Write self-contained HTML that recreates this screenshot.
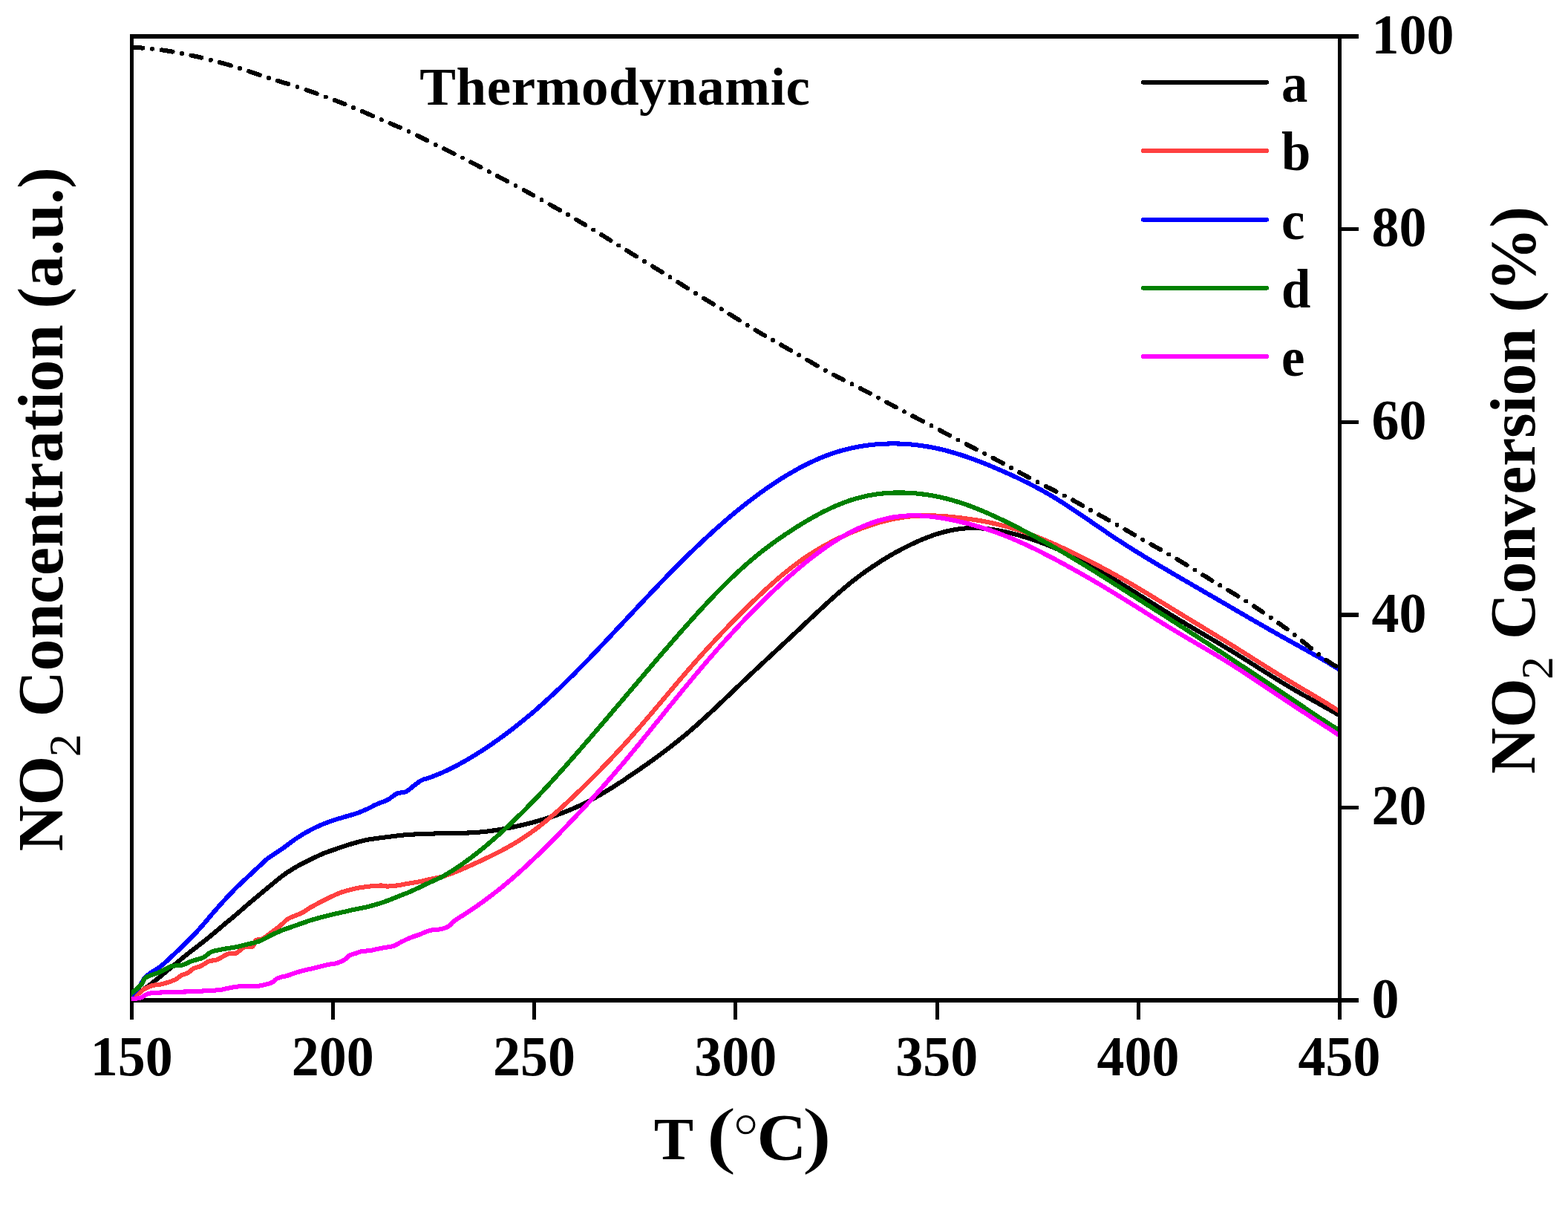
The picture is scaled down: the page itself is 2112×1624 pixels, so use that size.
<!DOCTYPE html>
<html lang="en"><head><meta charset="utf-8"><title>NO2 Concentration vs T</title>
<style>
html,body{margin:0;padding:0;background:#fff;}
body{width:2112px;height:1624px;overflow:hidden;}
svg{display:block;}
text{font-family:"Liberation Serif","Times New Roman",Times,serif;font-weight:bold;fill:#000;}
.ax{stroke:#000;fill:none;stroke-linecap:butt;shape-rendering:crispEdges;}
.cv{fill:none;stroke-width:6.1;stroke-linejoin:round;stroke-linecap:butt;shape-rendering:crispEdges;}
.lg{fill:none;stroke-width:6;stroke-linecap:round;shape-rendering:crispEdges;}
.tk{font-size:75px;}
.ti{font-size:88px;}
</style></head><body>
<svg width="2112" height="1624" viewBox="0 0 2112 1624">
<rect x="0" y="0" width="2112" height="1624" fill="#fff"/>
<defs><clipPath id="plot"><rect x="176.8" y="49.1" width="1625.30" height="1301.10"/></clipPath></defs>
<g class="ax" stroke-width="5.5">
<path stroke-width="5.0" d="M177.5,1372.8 L177.5,46.35"/>
<path d="M174.75,49.1 L1830.0,49.1"/>
<path d="M174.75,1347.2 L1830.0,1347.2"/>
<path stroke-width="5.0" d="M448.65,1347.2 L448.65,1372.8"/>
<path stroke-width="5.0" d="M719.80,1347.2 L719.80,1372.8"/>
<path stroke-width="5.0" d="M990.95,1347.2 L990.95,1372.8"/>
<path stroke-width="5.0" d="M1262.10,1347.2 L1262.10,1372.8"/>
<path stroke-width="5.0" d="M1533.25,1347.2 L1533.25,1372.8"/>
<path stroke-width="5.0" d="M1804.40,1347.2 L1804.40,1372.8"/>
</g>
<g clip-path="url(#plot)">
<path class="cv" stroke="#000000" d="M175.0,1343.0 C175.4,1342.8 175.7,1342.5 177.6,1341.5 C179.5,1340.5 182.2,1339.7 186.4,1337.0 C190.6,1334.3 197.3,1329.6 202.7,1325.5 C208.1,1321.4 213.6,1316.9 219.0,1312.4 C224.4,1308.0 229.9,1303.3 235.4,1298.8 C240.9,1294.3 246.4,1289.5 251.8,1285.2 C257.2,1280.9 262.7,1277.0 268.1,1272.7 C273.6,1268.4 279.1,1264.1 284.5,1259.6 C289.9,1255.1 295.4,1250.5 300.8,1245.9 C306.2,1241.4 311.8,1236.9 317.2,1232.3 C322.6,1227.7 328.1,1222.8 333.5,1218.2 C338.9,1213.6 344.4,1209.0 349.9,1204.5 C355.3,1200.0 361.2,1195.0 366.2,1190.9 C371.2,1186.8 375.3,1183.2 380.0,1179.7 C384.7,1176.2 389.5,1173.1 394.2,1170.2 C398.9,1167.3 403.6,1164.8 408.4,1162.3 C413.1,1159.8 417.9,1157.5 422.7,1155.2 C427.4,1153.0 432.2,1150.7 436.9,1148.8 C441.6,1146.9 446.4,1145.4 451.1,1143.8 C455.8,1142.2 460.6,1140.4 465.3,1138.9 C470.1,1137.4 474.9,1135.9 479.6,1134.6 C484.4,1133.3 489.1,1132.0 493.8,1131.0 C498.5,1130.0 503.3,1129.6 508.0,1128.9 C512.7,1128.2 517.5,1127.7 522.2,1127.1 C527.0,1126.5 531.8,1125.8 536.5,1125.3 C541.2,1124.8 546.0,1124.2 550.7,1123.9 C555.4,1123.6 560.2,1123.4 564.9,1123.2 C569.6,1123.0 574.4,1123.0 579.1,1122.8 C583.9,1122.6 589.7,1122.2 593.4,1122.1 C597.1,1122.0 598.7,1122.0 601.4,1122.0 C604.1,1122.0 606.7,1122.0 609.4,1122.0 C612.1,1121.9 614.7,1121.9 617.4,1121.9 C620.1,1121.8 622.7,1121.8 625.4,1121.7 C628.1,1121.6 630.7,1121.5 633.4,1121.4 C636.1,1121.3 638.7,1121.1 641.4,1120.9 C644.1,1120.7 646.7,1120.5 649.4,1120.3 C652.1,1120.0 654.7,1119.7 657.4,1119.4 C660.1,1119.1 662.7,1118.7 665.4,1118.3 C668.1,1117.9 670.7,1117.5 673.4,1117.1 C676.1,1116.6 678.7,1116.1 681.4,1115.6 C684.1,1115.1 686.7,1114.6 689.4,1114.1 C692.1,1113.5 694.7,1112.9 697.4,1112.3 C700.1,1111.7 702.7,1111.1 705.4,1110.5 C708.1,1109.8 710.7,1109.2 713.4,1108.5 C716.1,1107.8 718.7,1107.1 721.4,1106.4 C724.1,1105.6 726.7,1104.9 729.4,1104.1 C732.1,1103.3 734.7,1102.5 737.4,1101.7 C740.1,1100.8 742.7,1100.0 745.4,1099.1 C748.1,1098.2 750.7,1097.2 753.4,1096.2 C756.1,1095.3 758.7,1094.3 761.4,1093.2 C764.1,1092.2 766.7,1091.1 769.4,1090.0 C772.1,1088.8 774.7,1087.7 777.4,1086.4 C780.1,1085.2 782.7,1084.0 785.4,1082.6 C788.1,1081.3 790.7,1080.0 793.4,1078.6 C796.1,1077.2 798.7,1075.7 801.4,1074.3 C804.1,1072.8 806.7,1071.3 809.4,1069.7 C812.1,1068.1 814.7,1066.6 817.4,1064.9 C820.1,1063.3 822.7,1061.7 825.4,1060.0 C828.1,1058.3 830.7,1056.6 833.4,1054.9 C836.1,1053.1 838.7,1051.4 841.4,1049.6 C844.1,1047.8 846.7,1046.0 849.4,1044.2 C852.1,1042.4 854.7,1040.6 857.4,1038.8 C860.1,1036.9 862.7,1035.1 865.4,1033.2 C868.1,1031.4 870.7,1029.5 873.4,1027.6 C876.1,1025.7 878.7,1023.8 881.4,1021.9 C884.1,1019.9 886.7,1018.0 889.4,1016.0 C892.1,1014.0 894.7,1012.0 897.4,1010.0 C900.1,1008.0 902.7,1005.9 905.4,1003.8 C908.1,1001.7 910.7,999.6 913.4,997.5 C916.1,995.3 918.7,993.2 921.4,991.0 C924.1,988.8 926.7,986.5 929.4,984.2 C932.1,981.9 934.7,979.6 937.4,977.3 C940.1,974.9 942.7,972.5 945.4,970.1 C948.1,967.7 950.7,965.3 953.4,962.8 C956.1,960.3 958.7,957.8 961.4,955.4 C964.1,952.9 966.7,950.3 969.4,947.8 C972.1,945.3 974.7,942.7 977.4,940.2 C980.1,937.6 982.7,935.1 985.4,932.5 C988.1,930.0 990.7,927.4 993.4,924.9 C996.1,922.3 998.7,919.8 1001.4,917.3 C1004.1,914.7 1006.7,912.2 1009.4,909.7 C1012.1,907.2 1014.7,904.7 1017.4,902.2 C1020.1,899.7 1022.7,897.2 1025.4,894.7 C1028.1,892.2 1030.7,889.8 1033.4,887.3 C1036.1,884.8 1038.7,882.4 1041.4,879.9 C1044.1,877.4 1046.7,874.9 1049.4,872.5 C1052.1,870.0 1054.7,867.5 1057.4,865.1 C1060.1,862.6 1062.7,860.1 1065.4,857.6 C1068.1,855.1 1070.7,852.6 1073.4,850.2 C1076.1,847.7 1078.7,845.2 1081.4,842.6 C1084.1,840.1 1086.7,837.6 1089.4,835.1 C1092.1,832.6 1094.7,830.1 1097.4,827.6 C1100.1,825.1 1102.7,822.6 1105.4,820.2 C1108.1,817.7 1110.7,815.2 1113.4,812.8 C1116.1,810.4 1118.7,808.0 1121.4,805.6 C1124.1,803.2 1126.7,800.9 1129.4,798.5 C1132.1,796.2 1134.7,793.9 1137.4,791.7 C1140.1,789.5 1142.7,787.2 1145.4,785.1 C1148.1,782.9 1150.7,780.8 1153.4,778.8 C1156.1,776.7 1158.7,774.7 1161.4,772.8 C1164.1,770.8 1166.7,768.9 1169.4,767.0 C1172.1,765.2 1174.7,763.3 1177.4,761.6 C1180.1,759.8 1182.7,758.1 1185.4,756.4 C1188.1,754.7 1190.7,753.0 1193.4,751.4 C1196.1,749.8 1198.7,748.3 1201.4,746.7 C1204.1,745.2 1206.7,743.7 1209.4,742.3 C1212.1,740.8 1214.7,739.4 1217.4,738.1 C1220.1,736.7 1222.7,735.4 1225.4,734.1 C1228.1,732.8 1230.7,731.5 1233.4,730.3 C1236.1,729.1 1238.7,727.9 1241.4,726.8 C1244.1,725.7 1246.7,724.6 1249.4,723.6 C1252.1,722.5 1254.7,721.6 1257.4,720.6 C1260.1,719.7 1262.7,718.9 1265.4,718.1 C1268.1,717.3 1270.7,716.5 1273.4,715.9 C1276.1,715.2 1278.7,714.6 1281.4,714.0 C1284.1,713.5 1286.7,713.0 1289.4,712.6 C1292.1,712.2 1294.7,711.9 1297.4,711.7 C1300.1,711.4 1302.7,711.3 1305.4,711.2 C1308.1,711.1 1310.7,711.1 1313.4,711.1 C1316.1,711.2 1318.7,711.3 1321.4,711.4 C1324.1,711.6 1326.7,711.8 1329.4,712.1 C1332.1,712.4 1334.7,712.7 1337.4,713.1 C1340.1,713.5 1342.7,714.0 1345.4,714.5 C1348.1,714.9 1350.7,715.5 1353.4,716.1 C1356.1,716.6 1358.7,717.3 1361.4,717.9 C1364.1,718.6 1366.7,719.3 1369.4,720.0 C1372.1,720.7 1374.7,721.5 1377.4,722.3 C1380.1,723.1 1382.7,723.9 1385.4,724.7 C1388.1,725.6 1390.7,726.5 1393.4,727.4 C1396.1,728.3 1398.7,729.3 1401.4,730.3 C1404.1,731.2 1406.7,732.3 1409.4,733.3 C1412.1,734.4 1414.7,735.4 1417.4,736.5 C1420.1,737.7 1422.7,738.8 1425.4,740.0 C1428.1,741.1 1430.7,742.3 1433.4,743.6 C1436.1,744.8 1438.7,746.1 1441.4,747.4 C1444.1,748.7 1446.7,750.0 1449.4,751.4 C1452.1,752.7 1454.7,754.1 1457.4,755.5 C1460.1,756.9 1462.7,758.4 1465.4,759.8 C1468.1,761.3 1470.7,762.8 1473.4,764.3 C1476.1,765.8 1478.7,767.3 1481.4,768.8 C1484.1,770.4 1486.7,771.9 1489.4,773.5 C1492.1,775.1 1494.7,776.7 1497.4,778.3 C1500.1,779.9 1502.7,781.5 1505.4,783.1 C1508.1,784.8 1510.7,786.4 1513.4,788.1 C1516.1,789.7 1518.7,791.4 1521.4,793.0 C1524.1,794.7 1526.7,796.4 1529.4,798.0 C1532.1,799.7 1534.7,801.4 1537.4,803.1 C1540.1,804.7 1542.7,806.4 1545.4,808.1 C1548.1,809.8 1550.7,811.5 1553.4,813.1 C1556.1,814.8 1558.7,816.5 1561.4,818.1 C1564.1,819.8 1566.7,821.5 1569.4,823.1 C1572.1,824.8 1574.7,826.4 1577.4,828.1 C1580.1,829.7 1582.7,831.4 1585.4,833.0 C1588.1,834.6 1590.7,836.2 1593.4,837.8 C1596.1,839.4 1598.7,841.0 1601.4,842.6 C1604.1,844.2 1606.7,845.7 1609.4,847.3 C1612.1,848.9 1614.7,850.5 1617.4,852.0 C1620.1,853.6 1622.7,855.2 1625.4,856.7 C1628.1,858.3 1630.7,859.9 1633.4,861.4 C1636.1,863.0 1638.7,864.6 1641.4,866.2 C1644.1,867.8 1646.7,869.4 1649.4,871.0 C1652.1,872.6 1654.7,874.2 1657.4,875.8 C1660.1,877.4 1662.7,879.1 1665.4,880.7 C1668.1,882.4 1670.7,884.0 1673.4,885.7 C1676.1,887.4 1678.7,889.0 1681.4,890.7 C1684.1,892.4 1686.7,894.1 1689.4,895.7 C1692.1,897.4 1694.7,899.1 1697.4,900.8 C1700.1,902.5 1702.7,904.2 1705.4,905.8 C1708.1,907.5 1710.7,909.2 1713.4,910.8 C1716.1,912.5 1718.7,914.1 1721.4,915.8 C1724.1,917.4 1726.7,919.0 1729.4,920.6 C1732.1,922.2 1734.7,923.8 1737.4,925.4 C1740.1,927.0 1742.7,928.5 1745.4,930.1 C1748.1,931.6 1750.7,933.1 1753.4,934.7 C1756.1,936.2 1758.7,937.7 1761.4,939.2 C1764.1,940.7 1766.7,942.2 1769.4,943.7 C1772.1,945.2 1774.7,946.7 1777.4,948.2 C1780.1,949.7 1782.7,951.2 1785.4,952.7 C1788.1,954.2 1790.7,955.7 1793.4,957.2 C1796.1,958.7 1799.5,960.6 1801.4,961.7 C1803.3,962.8 1804.4,963.4 1805.0,963.7"/>
<path class="cv" stroke="#ff4040" d="M175.0,1343.5 C175.4,1343.2 175.7,1342.9 177.6,1342.0 C179.5,1341.1 183.7,1339.8 186.4,1338.1 C189.1,1336.4 190.9,1333.9 194.0,1332.1 C197.1,1330.3 200.7,1328.4 204.9,1327.2 C209.1,1326.0 213.9,1326.3 219.0,1325.0 C224.1,1323.7 231.2,1321.4 235.4,1319.5 C239.6,1317.6 241.2,1315.0 244.1,1313.5 C247.0,1312.0 250.1,1311.8 252.8,1310.3 C255.5,1308.8 257.6,1305.8 260.5,1304.3 C263.4,1302.8 266.9,1302.6 270.3,1301.0 C273.8,1299.4 277.6,1296.0 281.2,1294.5 C284.8,1293.0 287.6,1294.0 292.1,1292.3 C296.6,1290.6 304.0,1285.5 308.4,1284.1 C312.8,1282.6 314.9,1285.0 318.2,1283.6 C321.5,1282.2 324.4,1277.4 328.0,1275.9 C331.6,1274.4 337.3,1276.4 340.0,1274.8 C342.7,1273.2 342.2,1267.8 344.4,1266.1 C346.6,1264.4 349.5,1266.3 353.1,1264.5 C356.7,1262.7 362.2,1258.1 366.2,1255.2 C370.2,1252.3 373.4,1250.0 377.1,1247.0 C380.8,1244.0 383.8,1239.8 388.5,1237.0 C393.2,1234.2 401.1,1232.2 405.6,1229.9 C410.1,1227.7 411.6,1225.9 415.6,1223.5 C419.6,1221.1 425.1,1218.2 429.8,1215.7 C434.5,1213.2 439.3,1210.8 444.0,1208.6 C448.7,1206.3 453.4,1204.0 458.2,1202.2 C462.9,1200.4 467.8,1199.1 472.5,1197.9 C477.2,1196.7 482.0,1195.8 486.7,1195.0 C491.4,1194.2 496.4,1193.7 500.9,1193.3 C505.4,1192.9 510.2,1192.5 513.7,1192.5 C517.2,1192.5 518.4,1193.6 522.2,1193.6 C526.0,1193.5 531.8,1192.9 536.5,1192.2 C541.2,1191.5 546.0,1190.4 550.7,1189.6 C555.4,1188.8 560.2,1188.1 564.9,1187.2 C569.6,1186.3 574.4,1185.0 579.1,1184.0 C583.9,1183.0 589.7,1182.1 593.4,1181.2 C597.1,1180.3 598.7,1179.6 601.4,1178.6 C604.1,1177.7 606.7,1176.8 609.4,1175.7 C612.1,1174.7 614.7,1173.6 617.4,1172.5 C620.1,1171.5 622.7,1170.3 625.4,1169.2 C628.1,1168.0 630.7,1166.8 633.4,1165.6 C636.1,1164.4 638.7,1163.2 641.4,1162.0 C644.1,1160.8 646.7,1159.6 649.4,1158.3 C652.1,1157.1 654.7,1155.8 657.4,1154.5 C660.1,1153.3 662.7,1152.0 665.4,1150.6 C668.1,1149.3 670.7,1148.0 673.4,1146.6 C676.1,1145.2 678.7,1143.8 681.4,1142.3 C684.1,1140.8 686.7,1139.3 689.4,1137.8 C692.1,1136.2 694.7,1134.6 697.4,1133.0 C700.1,1131.4 702.7,1129.7 705.4,1127.9 C708.1,1126.1 710.7,1124.3 713.4,1122.4 C716.1,1120.5 718.7,1118.6 721.4,1116.6 C724.1,1114.6 726.7,1112.5 729.4,1110.4 C732.1,1108.3 734.7,1106.2 737.4,1104.0 C740.1,1101.7 742.7,1099.5 745.4,1097.2 C748.1,1094.9 750.7,1092.5 753.4,1090.2 C756.1,1087.8 758.7,1085.4 761.4,1082.9 C764.1,1080.5 766.7,1078.0 769.4,1075.4 C772.1,1072.9 774.7,1070.4 777.4,1067.8 C780.1,1065.3 782.7,1062.7 785.4,1060.0 C788.1,1057.4 790.7,1054.8 793.4,1052.1 C796.1,1049.5 798.7,1046.8 801.4,1044.1 C804.1,1041.4 806.7,1038.7 809.4,1036.0 C812.1,1033.2 814.7,1030.4 817.4,1027.7 C820.1,1024.9 822.7,1022.1 825.4,1019.2 C828.1,1016.4 830.7,1013.5 833.4,1010.6 C836.1,1007.7 838.7,1004.8 841.4,1001.9 C844.1,999.0 846.7,996.0 849.4,993.0 C852.1,990.0 854.7,987.0 857.4,983.9 C860.1,980.9 862.7,977.8 865.4,974.7 C868.1,971.6 870.7,968.5 873.4,965.4 C876.1,962.3 878.7,959.1 881.4,956.0 C884.1,952.8 886.7,949.7 889.4,946.5 C892.1,943.3 894.7,940.2 897.4,937.0 C900.1,933.8 902.7,930.7 905.4,927.5 C908.1,924.4 910.7,921.2 913.4,918.1 C916.1,914.9 918.7,911.8 921.4,908.7 C924.1,905.6 926.7,902.5 929.4,899.5 C932.1,896.4 934.7,893.4 937.4,890.4 C940.1,887.4 942.7,884.4 945.4,881.4 C948.1,878.5 950.7,875.5 953.4,872.6 C956.1,869.7 958.7,866.8 961.4,864.0 C964.1,861.1 966.7,858.3 969.4,855.4 C972.1,852.6 974.7,849.8 977.4,847.0 C980.1,844.3 982.7,841.5 985.4,838.8 C988.1,836.1 990.7,833.3 993.4,830.6 C996.1,828.0 998.7,825.3 1001.4,822.6 C1004.1,820.0 1006.7,817.3 1009.4,814.7 C1012.1,812.1 1014.7,809.5 1017.4,807.0 C1020.1,804.4 1022.7,801.9 1025.4,799.4 C1028.1,796.9 1030.7,794.4 1033.4,792.0 C1036.1,789.6 1038.7,787.2 1041.4,784.8 C1044.1,782.4 1046.7,780.1 1049.4,777.8 C1052.1,775.6 1054.7,773.3 1057.4,771.2 C1060.1,769.0 1062.7,766.8 1065.4,764.8 C1068.1,762.7 1070.7,760.6 1073.4,758.7 C1076.1,756.7 1078.7,754.8 1081.4,752.9 C1084.1,751.1 1086.7,749.3 1089.4,747.5 C1092.1,745.8 1094.7,744.1 1097.4,742.4 C1100.1,740.8 1102.7,739.2 1105.4,737.6 C1108.1,736.1 1110.7,734.6 1113.4,733.1 C1116.1,731.7 1118.7,730.2 1121.4,728.9 C1124.1,727.5 1126.7,726.2 1129.4,724.9 C1132.1,723.6 1134.7,722.4 1137.4,721.2 C1140.1,720.0 1142.7,718.8 1145.4,717.6 C1148.1,716.5 1150.7,715.4 1153.4,714.3 C1156.1,713.3 1158.7,712.2 1161.4,711.2 C1164.1,710.2 1166.7,709.3 1169.4,708.4 C1172.1,707.4 1174.7,706.6 1177.4,705.7 C1180.1,704.9 1182.7,704.1 1185.4,703.3 C1188.1,702.6 1190.7,701.9 1193.4,701.2 C1196.1,700.5 1198.7,699.9 1201.4,699.3 C1204.1,698.8 1206.7,698.2 1209.4,697.8 C1212.1,697.3 1214.7,696.9 1217.4,696.5 C1220.1,696.1 1222.7,695.8 1225.4,695.5 C1228.1,695.2 1230.7,695.0 1233.4,694.8 C1236.1,694.7 1238.7,694.5 1241.4,694.4 C1244.1,694.4 1246.7,694.3 1249.4,694.3 C1252.1,694.3 1254.7,694.3 1257.4,694.4 C1260.1,694.5 1262.7,694.6 1265.4,694.7 C1268.1,694.9 1270.7,695.1 1273.4,695.3 C1276.1,695.5 1278.7,695.7 1281.4,696.0 C1284.1,696.2 1286.7,696.5 1289.4,696.8 C1292.1,697.1 1294.7,697.4 1297.4,697.8 C1300.1,698.1 1302.7,698.5 1305.4,698.9 C1308.1,699.2 1310.7,699.6 1313.4,700.1 C1316.1,700.5 1318.7,700.9 1321.4,701.4 C1324.1,701.9 1326.7,702.4 1329.4,702.9 C1332.1,703.5 1334.7,704.0 1337.4,704.6 C1340.1,705.2 1342.7,705.8 1345.4,706.4 C1348.1,707.1 1350.7,707.8 1353.4,708.5 C1356.1,709.2 1358.7,709.9 1361.4,710.7 C1364.1,711.5 1366.7,712.3 1369.4,713.1 C1372.1,714.0 1374.7,714.8 1377.4,715.8 C1380.1,716.7 1382.7,717.6 1385.4,718.6 C1388.1,719.6 1390.7,720.6 1393.4,721.6 C1396.1,722.6 1398.7,723.7 1401.4,724.8 C1404.1,725.9 1406.7,727.0 1409.4,728.1 C1412.1,729.2 1414.7,730.4 1417.4,731.6 C1420.1,732.7 1422.7,733.9 1425.4,735.1 C1428.1,736.4 1430.7,737.6 1433.4,738.8 C1436.1,740.1 1438.7,741.4 1441.4,742.6 C1444.1,743.9 1446.7,745.2 1449.4,746.5 C1452.1,747.8 1454.7,749.1 1457.4,750.4 C1460.1,751.8 1462.7,753.1 1465.4,754.5 C1468.1,755.8 1470.7,757.2 1473.4,758.6 C1476.1,760.0 1478.7,761.4 1481.4,762.8 C1484.1,764.2 1486.7,765.6 1489.4,767.1 C1492.1,768.5 1494.7,770.0 1497.4,771.4 C1500.1,772.9 1502.7,774.4 1505.4,775.9 C1508.1,777.4 1510.7,778.9 1513.4,780.4 C1516.1,782.0 1518.7,783.5 1521.4,785.0 C1524.1,786.6 1526.7,788.2 1529.4,789.7 C1532.1,791.3 1534.7,792.9 1537.4,794.5 C1540.1,796.1 1542.7,797.7 1545.4,799.3 C1548.1,800.9 1550.7,802.5 1553.4,804.2 C1556.1,805.8 1558.7,807.4 1561.4,809.0 C1564.1,810.7 1566.7,812.3 1569.4,813.9 C1572.1,815.5 1574.7,817.2 1577.4,818.8 C1580.1,820.4 1582.7,822.1 1585.4,823.7 C1588.1,825.3 1590.7,827.0 1593.4,828.6 C1596.1,830.2 1598.7,831.8 1601.4,833.4 C1604.1,835.1 1606.7,836.7 1609.4,838.3 C1612.1,839.9 1614.7,841.5 1617.4,843.1 C1620.1,844.8 1622.7,846.4 1625.4,848.0 C1628.1,849.6 1630.7,851.2 1633.4,852.9 C1636.1,854.5 1638.7,856.1 1641.4,857.8 C1644.1,859.4 1646.7,861.0 1649.4,862.7 C1652.1,864.3 1654.7,866.0 1657.4,867.7 C1660.1,869.3 1662.7,871.0 1665.4,872.6 C1668.1,874.3 1670.7,876.0 1673.4,877.7 C1676.1,879.4 1678.7,881.0 1681.4,882.7 C1684.1,884.4 1686.7,886.1 1689.4,887.8 C1692.1,889.5 1694.7,891.2 1697.4,892.8 C1700.1,894.5 1702.7,896.2 1705.4,897.9 C1708.1,899.6 1710.7,901.2 1713.4,902.9 C1716.1,904.5 1718.7,906.2 1721.4,907.8 C1724.1,909.5 1726.7,911.1 1729.4,912.7 C1732.1,914.3 1734.7,916.0 1737.4,917.5 C1740.1,919.1 1742.7,920.7 1745.4,922.3 C1748.1,923.9 1750.7,925.5 1753.4,927.0 C1756.1,928.6 1758.7,930.2 1761.4,931.8 C1764.1,933.3 1766.7,934.9 1769.4,936.5 C1772.1,938.1 1774.7,939.7 1777.4,941.3 C1780.1,942.9 1782.7,944.5 1785.4,946.1 C1788.1,947.7 1790.7,949.4 1793.4,951.1 C1796.1,952.7 1799.5,954.9 1801.4,956.1 C1803.3,957.3 1804.4,958.0 1805.0,958.4"/>
<path class="cv" stroke="#0000ff" d="M175.0,1343.0 C175.4,1342.5 175.7,1342.3 177.6,1340.2 C179.5,1338.1 184.0,1333.5 186.4,1330.4 C188.8,1327.3 190.4,1324.1 191.8,1321.7 C193.2,1319.3 193.3,1318.2 195.1,1316.3 C196.9,1314.4 199.6,1312.5 202.7,1310.3 C205.8,1308.1 210.7,1305.2 213.6,1303.2 C216.5,1301.2 216.5,1301.5 220.1,1298.3 C223.7,1295.1 230.1,1289.1 235.4,1284.1 C240.7,1279.1 246.4,1273.8 251.8,1268.3 C257.2,1262.8 262.7,1257.4 268.1,1251.4 C273.6,1245.4 279.1,1238.6 284.5,1232.3 C289.9,1226.0 295.4,1219.8 300.8,1213.8 C306.2,1207.8 311.8,1201.9 317.2,1196.4 C322.6,1191.0 328.0,1186.2 333.5,1181.1 C339.0,1175.9 345.5,1169.8 350.2,1165.5 C354.9,1161.2 356.6,1159.0 361.6,1155.3 C366.6,1151.6 374.6,1146.9 380.0,1143.1 C385.4,1139.3 389.5,1135.8 394.2,1132.5 C398.9,1129.2 403.6,1126.0 408.4,1123.2 C413.1,1120.4 417.9,1117.8 422.7,1115.4 C427.4,1113.0 432.2,1110.9 436.9,1109.0 C441.6,1107.1 446.4,1105.5 451.1,1104.0 C455.8,1102.5 460.6,1101.1 465.3,1099.7 C470.1,1098.3 474.9,1097.2 479.6,1095.5 C484.4,1093.8 489.1,1091.9 493.8,1089.8 C498.5,1087.7 503.3,1084.8 508.0,1082.7 C512.7,1080.6 517.7,1079.4 522.2,1077.0 C526.7,1074.6 531.0,1070.2 535.0,1068.4 C539.0,1066.6 542.6,1068.1 546.4,1066.3 C550.2,1064.5 554.2,1060.4 557.8,1057.8 C561.4,1055.2 564.2,1052.5 567.8,1050.7 C571.3,1048.9 574.8,1048.7 579.1,1047.1 C583.4,1045.5 589.7,1042.9 593.4,1041.4 C597.1,1039.8 598.7,1039.0 601.4,1037.7 C604.1,1036.5 606.7,1035.2 609.4,1033.8 C612.1,1032.5 614.7,1031.1 617.4,1029.7 C620.1,1028.2 622.7,1026.8 625.4,1025.3 C628.1,1023.7 630.7,1022.2 633.4,1020.6 C636.1,1019.0 638.7,1017.4 641.4,1015.7 C644.1,1014.1 646.7,1012.4 649.4,1010.7 C652.1,1008.9 654.7,1007.2 657.4,1005.4 C660.1,1003.6 662.7,1001.7 665.4,999.9 C668.1,998.0 670.7,996.1 673.4,994.2 C676.1,992.3 678.7,990.3 681.4,988.4 C684.1,986.4 686.7,984.4 689.4,982.3 C692.1,980.3 694.7,978.2 697.4,976.1 C700.1,973.9 702.7,971.8 705.4,969.6 C708.1,967.4 710.7,965.2 713.4,963.0 C716.1,960.8 718.7,958.5 721.4,956.2 C724.1,953.9 726.7,951.5 729.4,949.1 C732.1,946.8 734.7,944.4 737.4,941.9 C740.1,939.5 742.7,937.0 745.4,934.5 C748.1,932.0 750.7,929.5 753.4,927.0 C756.1,924.4 758.7,921.8 761.4,919.2 C764.1,916.6 766.7,914.0 769.4,911.3 C772.1,908.7 774.7,906.0 777.4,903.3 C780.1,900.6 782.7,897.9 785.4,895.2 C788.1,892.5 790.7,889.7 793.4,887.0 C796.1,884.2 798.7,881.4 801.4,878.6 C804.1,875.8 806.7,873.0 809.4,870.2 C812.1,867.4 814.7,864.6 817.4,861.8 C820.1,858.9 822.7,856.1 825.4,853.2 C828.1,850.4 830.7,847.5 833.4,844.7 C836.1,841.8 838.7,839.0 841.4,836.1 C844.1,833.3 846.7,830.4 849.4,827.6 C852.1,824.7 854.7,821.8 857.4,819.0 C860.1,816.1 862.7,813.3 865.4,810.5 C868.1,807.6 870.7,804.8 873.4,802.0 C876.1,799.2 878.7,796.4 881.4,793.6 C884.1,790.8 886.7,788.0 889.4,785.2 C892.1,782.4 894.7,779.7 897.4,776.9 C900.1,774.2 902.7,771.5 905.4,768.8 C908.1,766.1 910.7,763.4 913.4,760.7 C916.1,758.0 918.7,755.4 921.4,752.7 C924.1,750.1 926.7,747.5 929.4,744.9 C932.1,742.3 934.7,739.7 937.4,737.2 C940.1,734.6 942.7,732.1 945.4,729.6 C948.1,727.1 950.7,724.6 953.4,722.2 C956.1,719.7 958.7,717.3 961.4,714.9 C964.1,712.5 966.7,710.1 969.4,707.8 C972.1,705.4 974.7,703.1 977.4,700.8 C980.1,698.5 982.7,696.3 985.4,694.0 C988.1,691.8 990.7,689.6 993.4,687.4 C996.1,685.2 998.7,683.1 1001.4,681.0 C1004.1,678.9 1006.7,676.8 1009.4,674.7 C1012.1,672.7 1014.7,670.7 1017.4,668.7 C1020.1,666.7 1022.7,664.7 1025.4,662.8 C1028.1,660.9 1030.7,659.0 1033.4,657.1 C1036.1,655.3 1038.7,653.5 1041.4,651.7 C1044.1,649.9 1046.7,648.2 1049.4,646.5 C1052.1,644.7 1054.7,643.1 1057.4,641.4 C1060.1,639.8 1062.7,638.2 1065.4,636.7 C1068.1,635.1 1070.7,633.6 1073.4,632.1 C1076.1,630.6 1078.7,629.2 1081.4,627.8 C1084.1,626.4 1086.7,625.1 1089.4,623.8 C1092.1,622.5 1094.7,621.3 1097.4,620.1 C1100.1,618.9 1102.7,617.7 1105.4,616.6 C1108.1,615.5 1110.7,614.4 1113.4,613.4 C1116.1,612.4 1118.7,611.5 1121.4,610.6 C1124.1,609.7 1126.7,608.8 1129.4,608.0 C1132.1,607.2 1134.7,606.5 1137.4,605.7 C1140.1,605.0 1142.7,604.4 1145.4,603.8 C1148.1,603.2 1150.7,602.6 1153.4,602.1 C1156.1,601.6 1158.7,601.1 1161.4,600.7 C1164.1,600.2 1166.7,599.8 1169.4,599.5 C1172.1,599.2 1174.7,598.9 1177.4,598.6 C1180.1,598.3 1182.7,598.1 1185.4,598.0 C1188.1,597.8 1190.7,597.7 1193.4,597.6 C1196.1,597.5 1198.7,597.4 1201.4,597.4 C1204.1,597.4 1206.7,597.4 1209.4,597.5 C1212.1,597.5 1214.7,597.7 1217.4,597.8 C1220.1,597.9 1222.7,598.1 1225.4,598.3 C1228.1,598.6 1230.7,598.8 1233.4,599.1 C1236.1,599.4 1238.7,599.8 1241.4,600.2 C1244.1,600.5 1246.7,600.9 1249.4,601.4 C1252.1,601.9 1254.7,602.4 1257.4,602.9 C1260.1,603.4 1262.7,604.0 1265.4,604.6 C1268.1,605.2 1270.7,605.9 1273.4,606.5 C1276.1,607.2 1278.7,608.0 1281.4,608.7 C1284.1,609.5 1286.7,610.3 1289.4,611.1 C1292.1,611.9 1294.7,612.8 1297.4,613.6 C1300.1,614.5 1302.7,615.4 1305.4,616.4 C1308.1,617.3 1310.7,618.3 1313.4,619.3 C1316.1,620.3 1318.7,621.3 1321.4,622.3 C1324.1,623.4 1326.7,624.4 1329.4,625.5 C1332.1,626.6 1334.7,627.7 1337.4,628.8 C1340.1,629.9 1342.7,631.1 1345.4,632.2 C1348.1,633.4 1350.7,634.5 1353.4,635.7 C1356.1,636.9 1358.7,638.1 1361.4,639.3 C1364.1,640.5 1366.7,641.8 1369.4,643.0 C1372.1,644.3 1374.7,645.6 1377.4,646.9 C1380.1,648.2 1382.7,649.5 1385.4,650.8 C1388.1,652.2 1390.7,653.6 1393.4,655.0 C1396.1,656.4 1398.7,657.8 1401.4,659.3 C1404.1,660.7 1406.7,662.2 1409.4,663.7 C1412.1,665.2 1414.7,666.8 1417.4,668.4 C1420.1,670.0 1422.7,671.6 1425.4,673.2 C1428.1,674.9 1430.7,676.6 1433.4,678.3 C1436.1,680.0 1438.7,681.7 1441.4,683.5 C1444.1,685.2 1446.7,687.0 1449.4,688.8 C1452.1,690.6 1454.7,692.4 1457.4,694.2 C1460.1,696.0 1462.7,697.8 1465.4,699.7 C1468.1,701.5 1470.7,703.3 1473.4,705.2 C1476.1,707.0 1478.7,708.8 1481.4,710.6 C1484.1,712.5 1486.7,714.3 1489.4,716.1 C1492.1,717.9 1494.7,719.7 1497.4,721.5 C1500.1,723.3 1502.7,725.0 1505.4,726.8 C1508.1,728.5 1510.7,730.3 1513.4,732.0 C1516.1,733.7 1518.7,735.4 1521.4,737.1 C1524.1,738.7 1526.7,740.4 1529.4,742.1 C1532.1,743.7 1534.7,745.4 1537.4,747.0 C1540.1,748.7 1542.7,750.3 1545.4,751.9 C1548.1,753.5 1550.7,755.1 1553.4,756.7 C1556.1,758.3 1558.7,759.9 1561.4,761.5 C1564.1,763.1 1566.7,764.7 1569.4,766.2 C1572.1,767.8 1574.7,769.4 1577.4,770.9 C1580.1,772.5 1582.7,774.1 1585.4,775.6 C1588.1,777.2 1590.7,778.7 1593.4,780.3 C1596.1,781.8 1598.7,783.4 1601.4,784.9 C1604.1,786.5 1606.7,788.0 1609.4,789.6 C1612.1,791.1 1614.7,792.7 1617.4,794.2 C1620.1,795.8 1622.7,797.3 1625.4,798.9 C1628.1,800.4 1630.7,801.9 1633.4,803.5 C1636.1,805.0 1638.7,806.6 1641.4,808.1 C1644.1,809.7 1646.7,811.2 1649.4,812.8 C1652.1,814.3 1654.7,815.8 1657.4,817.4 C1660.1,818.9 1662.7,820.5 1665.4,822.1 C1668.1,823.6 1670.7,825.2 1673.4,826.7 C1676.1,828.3 1678.7,829.8 1681.4,831.4 C1684.1,832.9 1686.7,834.4 1689.4,836.0 C1692.1,837.5 1694.7,839.1 1697.4,840.6 C1700.1,842.1 1702.7,843.7 1705.4,845.2 C1708.1,846.7 1710.7,848.3 1713.4,849.8 C1716.1,851.3 1718.7,852.8 1721.4,854.3 C1724.1,855.8 1726.7,857.3 1729.4,858.8 C1732.1,860.3 1734.7,861.8 1737.4,863.3 C1740.1,864.7 1742.7,866.2 1745.4,867.7 C1748.1,869.2 1750.7,870.6 1753.4,872.1 C1756.1,873.6 1758.7,875.1 1761.4,876.6 C1764.1,878.1 1766.7,879.6 1769.4,881.1 C1772.1,882.6 1774.7,884.1 1777.4,885.6 C1780.1,887.2 1782.7,888.7 1785.4,890.3 C1788.1,891.9 1790.7,893.4 1793.4,895.1 C1796.1,896.7 1799.5,898.8 1801.4,899.9 C1803.3,901.1 1804.4,901.8 1805.0,902.2"/>
<path class="cv" stroke="#008000" d="M175.0,1340.0 C175.4,1339.5 175.7,1338.7 177.6,1337.0 C179.5,1335.3 184.0,1332.1 186.4,1329.9 C188.8,1327.7 190.4,1326.0 191.8,1323.9 C193.2,1321.8 193.3,1319.0 195.1,1317.3 C196.9,1315.6 199.6,1314.8 202.7,1313.5 C205.8,1312.2 210.0,1311.2 213.6,1309.7 C217.2,1308.2 221.6,1305.8 224.5,1304.3 C227.4,1302.8 227.4,1301.8 231.0,1301.0 C234.6,1300.2 241.9,1300.5 246.3,1299.4 C250.7,1298.3 252.6,1296.2 257.2,1294.5 C261.8,1292.8 269.1,1291.6 273.6,1289.5 C278.2,1287.4 280.0,1283.8 284.5,1281.9 C289.0,1280.0 295.4,1279.2 300.8,1278.1 C306.2,1277.0 311.8,1276.5 317.2,1275.4 C322.6,1274.3 328.1,1273.0 333.5,1271.6 C338.9,1270.2 344.4,1269.3 349.9,1267.2 C355.3,1265.1 361.2,1261.4 366.2,1259.0 C371.2,1256.6 375.3,1254.6 380.0,1252.7 C384.7,1250.8 389.5,1249.4 394.2,1247.7 C398.9,1246.0 403.6,1244.3 408.4,1242.7 C413.1,1241.1 417.9,1239.4 422.7,1238.0 C427.4,1236.6 432.2,1235.4 436.9,1234.2 C441.6,1233.0 446.4,1231.7 451.1,1230.6 C455.8,1229.5 460.6,1228.6 465.3,1227.5 C470.1,1226.4 474.9,1225.2 479.6,1224.2 C484.4,1223.2 489.1,1222.5 493.8,1221.4 C498.5,1220.3 503.3,1218.9 508.0,1217.5 C512.7,1216.1 517.5,1214.5 522.2,1212.8 C527.0,1211.1 531.8,1209.0 536.5,1207.1 C541.2,1205.2 546.0,1203.5 550.7,1201.5 C555.4,1199.5 560.2,1197.2 564.9,1195.0 C569.6,1192.8 574.4,1190.4 579.1,1188.2 C583.9,1186.0 589.7,1183.5 593.4,1181.7 C597.1,1179.9 598.7,1178.7 601.4,1177.2 C604.1,1175.6 606.7,1174.0 609.4,1172.3 C612.1,1170.6 614.7,1168.9 617.4,1167.1 C620.1,1165.3 622.7,1163.4 625.4,1161.5 C628.1,1159.6 630.7,1157.7 633.4,1155.7 C636.1,1153.7 638.7,1151.6 641.4,1149.6 C644.1,1147.5 646.7,1145.4 649.4,1143.2 C652.1,1141.0 654.7,1138.8 657.4,1136.6 C660.1,1134.3 662.7,1132.0 665.4,1129.7 C668.1,1127.3 670.7,1125.0 673.4,1122.6 C676.1,1120.2 678.7,1117.7 681.4,1115.2 C684.1,1112.8 686.7,1110.2 689.4,1107.7 C692.1,1105.1 694.7,1102.6 697.4,1099.9 C700.1,1097.3 702.7,1094.7 705.4,1092.0 C708.1,1089.3 710.7,1086.6 713.4,1083.9 C716.1,1081.1 718.7,1078.4 721.4,1075.6 C724.1,1072.8 726.7,1070.0 729.4,1067.1 C732.1,1064.3 734.7,1061.4 737.4,1058.5 C740.1,1055.6 742.7,1052.7 745.4,1049.8 C748.1,1046.8 750.7,1043.9 753.4,1040.9 C756.1,1038.0 758.7,1035.0 761.4,1032.0 C764.1,1029.0 766.7,1025.9 769.4,1022.9 C772.1,1019.9 774.7,1016.8 777.4,1013.8 C780.1,1010.7 782.7,1007.7 785.4,1004.6 C788.1,1001.5 790.7,998.4 793.4,995.3 C796.1,992.3 798.7,989.2 801.4,986.1 C804.1,983.0 806.7,979.8 809.4,976.7 C812.1,973.6 814.7,970.5 817.4,967.4 C820.1,964.2 822.7,961.1 825.4,958.0 C828.1,954.8 830.7,951.7 833.4,948.6 C836.1,945.4 838.7,942.3 841.4,939.1 C844.1,936.0 846.7,932.9 849.4,929.7 C852.1,926.6 854.7,923.4 857.4,920.3 C860.1,917.1 862.7,914.0 865.4,910.9 C868.1,907.7 870.7,904.6 873.4,901.5 C876.1,898.3 878.7,895.2 881.4,892.1 C884.1,889.0 886.7,885.8 889.4,882.7 C892.1,879.6 894.7,876.5 897.4,873.5 C900.1,870.4 902.7,867.3 905.4,864.2 C908.1,861.2 910.7,858.1 913.4,855.1 C916.1,852.0 918.7,849.0 921.4,846.0 C924.1,843.0 926.7,840.0 929.4,837.0 C932.1,834.0 934.7,831.1 937.4,828.1 C940.1,825.2 942.7,822.3 945.4,819.4 C948.1,816.5 950.7,813.6 953.4,810.8 C956.1,807.9 958.7,805.1 961.4,802.3 C964.1,799.6 966.7,796.8 969.4,794.1 C972.1,791.4 974.7,788.7 977.4,786.0 C980.1,783.4 982.7,780.8 985.4,778.2 C988.1,775.7 990.7,773.1 993.4,770.7 C996.1,768.2 998.7,765.8 1001.4,763.4 C1004.1,761.0 1006.7,758.7 1009.4,756.4 C1012.1,754.1 1014.7,751.9 1017.4,749.7 C1020.1,747.5 1022.7,745.3 1025.4,743.2 C1028.1,741.1 1030.7,739.1 1033.4,737.1 C1036.1,735.0 1038.7,733.1 1041.4,731.1 C1044.1,729.2 1046.7,727.3 1049.4,725.4 C1052.1,723.6 1054.7,721.7 1057.4,719.9 C1060.1,718.1 1062.7,716.4 1065.4,714.6 C1068.1,712.9 1070.7,711.2 1073.4,709.5 C1076.1,707.9 1078.7,706.2 1081.4,704.6 C1084.1,703.0 1086.7,701.4 1089.4,699.9 C1092.1,698.3 1094.7,696.8 1097.4,695.3 C1100.1,693.9 1102.7,692.4 1105.4,691.0 C1108.1,689.6 1110.7,688.3 1113.4,687.0 C1116.1,685.7 1118.7,684.4 1121.4,683.2 C1124.1,682.0 1126.7,680.8 1129.4,679.7 C1132.1,678.6 1134.7,677.6 1137.4,676.6 C1140.1,675.6 1142.7,674.6 1145.4,673.7 C1148.1,672.9 1150.7,672.0 1153.4,671.3 C1156.1,670.5 1158.7,669.8 1161.4,669.2 C1164.1,668.5 1166.7,667.9 1169.4,667.4 C1172.1,666.9 1174.7,666.4 1177.4,666.0 C1180.1,665.6 1182.7,665.2 1185.4,664.9 C1188.1,664.6 1190.7,664.3 1193.4,664.1 C1196.1,663.9 1198.7,663.8 1201.4,663.6 C1204.1,663.5 1206.7,663.5 1209.4,663.5 C1212.1,663.4 1214.7,663.5 1217.4,663.5 C1220.1,663.6 1222.7,663.7 1225.4,663.9 C1228.1,664.0 1230.7,664.2 1233.4,664.4 C1236.1,664.7 1238.7,665.0 1241.4,665.3 C1244.1,665.6 1246.7,666.0 1249.4,666.4 C1252.1,666.8 1254.7,667.2 1257.4,667.7 C1260.1,668.2 1262.7,668.7 1265.4,669.3 C1268.1,669.9 1270.7,670.5 1273.4,671.1 C1276.1,671.8 1278.7,672.5 1281.4,673.2 C1284.1,674.0 1286.7,674.7 1289.4,675.6 C1292.1,676.4 1294.7,677.2 1297.4,678.1 C1300.1,679.0 1302.7,680.0 1305.4,681.0 C1308.1,681.9 1310.7,683.0 1313.4,684.0 C1316.1,685.1 1318.7,686.1 1321.4,687.3 C1324.1,688.4 1326.7,689.5 1329.4,690.7 C1332.1,691.8 1334.7,693.0 1337.4,694.3 C1340.1,695.5 1342.7,696.7 1345.4,698.0 C1348.1,699.2 1350.7,700.5 1353.4,701.8 C1356.1,703.1 1358.7,704.4 1361.4,705.8 C1364.1,707.1 1366.7,708.4 1369.4,709.8 C1372.1,711.2 1374.7,712.5 1377.4,713.9 C1380.1,715.3 1382.7,716.7 1385.4,718.1 C1388.1,719.5 1390.7,720.9 1393.4,722.3 C1396.1,723.7 1398.7,725.2 1401.4,726.6 C1404.1,728.0 1406.7,729.5 1409.4,731.0 C1412.1,732.5 1414.7,733.9 1417.4,735.4 C1420.1,736.9 1422.7,738.5 1425.4,740.0 C1428.1,741.5 1430.7,743.0 1433.4,744.6 C1436.1,746.2 1438.7,747.7 1441.4,749.3 C1444.1,750.9 1446.7,752.5 1449.4,754.1 C1452.1,755.7 1454.7,757.3 1457.4,758.9 C1460.1,760.6 1462.7,762.2 1465.4,763.9 C1468.1,765.5 1470.7,767.2 1473.4,768.8 C1476.1,770.5 1478.7,772.2 1481.4,773.9 C1484.1,775.5 1486.7,777.2 1489.4,778.9 C1492.1,780.6 1494.7,782.3 1497.4,784.0 C1500.1,785.7 1502.7,787.4 1505.4,789.1 C1508.1,790.8 1510.7,792.5 1513.4,794.2 C1516.1,795.9 1518.7,797.5 1521.4,799.2 C1524.1,800.9 1526.7,802.6 1529.4,804.3 C1532.1,806.0 1534.7,807.7 1537.4,809.4 C1540.1,811.1 1542.7,812.8 1545.4,814.5 C1548.1,816.2 1550.7,817.9 1553.4,819.6 C1556.1,821.3 1558.7,823.0 1561.4,824.7 C1564.1,826.4 1566.7,828.0 1569.4,829.7 C1572.1,831.4 1574.7,833.1 1577.4,834.9 C1580.1,836.6 1582.7,838.3 1585.4,840.0 C1588.1,841.7 1590.7,843.4 1593.4,845.1 C1596.1,846.8 1598.7,848.5 1601.4,850.2 C1604.1,852.0 1606.7,853.7 1609.4,855.4 C1612.1,857.1 1614.7,858.8 1617.4,860.6 C1620.1,862.3 1622.7,864.0 1625.4,865.7 C1628.1,867.5 1630.7,869.2 1633.4,870.9 C1636.1,872.7 1638.7,874.4 1641.4,876.1 C1644.1,877.9 1646.7,879.6 1649.4,881.3 C1652.1,883.1 1654.7,884.8 1657.4,886.6 C1660.1,888.3 1662.7,890.1 1665.4,891.8 C1668.1,893.6 1670.7,895.3 1673.4,897.1 C1676.1,898.8 1678.7,900.6 1681.4,902.3 C1684.1,904.1 1686.7,905.8 1689.4,907.6 C1692.1,909.3 1694.7,911.1 1697.4,912.9 C1700.1,914.6 1702.7,916.4 1705.4,918.2 C1708.1,920.0 1710.7,921.7 1713.4,923.5 C1716.1,925.3 1718.7,927.1 1721.4,928.9 C1724.1,930.6 1726.7,932.4 1729.4,934.2 C1732.1,936.0 1734.7,937.8 1737.4,939.6 C1740.1,941.4 1742.7,943.2 1745.4,945.0 C1748.1,946.8 1750.7,948.6 1753.4,950.4 C1756.1,952.2 1758.7,954.0 1761.4,955.8 C1764.1,957.6 1766.7,959.4 1769.4,961.2 C1772.1,963.0 1774.7,964.7 1777.4,966.5 C1780.1,968.2 1782.7,970.0 1785.4,971.7 C1788.1,973.4 1790.7,975.1 1793.4,976.8 C1796.1,978.5 1799.5,980.7 1801.4,981.9 C1803.3,983.1 1804.4,983.7 1805.0,984.1"/>
<path class="cv" stroke="#ff00ff" d="M174.0,1345.2 C174.6,1345.2 175.6,1345.0 177.6,1344.9 C179.6,1344.8 183.8,1344.7 186.0,1344.4 C188.2,1344.1 189.4,1343.7 191.0,1343.0 C192.6,1342.3 194.0,1340.8 195.5,1340.0 C197.0,1339.2 198.2,1338.5 200.0,1338.0 C201.8,1337.5 201.6,1337.4 206.0,1337.1 C210.4,1336.8 218.2,1336.4 226.7,1336.1 C235.2,1335.8 248.5,1335.6 257.2,1335.3 C265.9,1335.0 272.6,1334.6 279.0,1334.2 C285.4,1333.8 290.8,1333.6 295.4,1333.1 C299.9,1332.6 301.8,1331.8 306.3,1331.0 C310.8,1330.2 315.9,1328.7 322.6,1328.2 C329.3,1327.7 340.2,1328.4 346.6,1327.9 C353.0,1327.4 357.2,1326.0 360.8,1325.0 C364.4,1324.0 366.2,1323.0 368.4,1321.7 C370.6,1320.4 370.5,1318.7 373.8,1317.3 C377.1,1315.9 383.7,1314.8 388.0,1313.5 C392.3,1312.2 395.2,1310.8 399.5,1309.5 C403.8,1308.2 409.0,1307.0 413.7,1305.8 C418.4,1304.6 423.2,1303.6 427.9,1302.4 C432.6,1301.2 437.7,1299.8 442.1,1298.9 C446.5,1298.0 450.8,1297.9 454.4,1296.8 C458.0,1295.7 461.2,1294.2 463.9,1292.5 C466.6,1290.8 467.8,1288.3 470.5,1286.8 C473.2,1285.3 477.2,1284.5 480.0,1283.5 C482.8,1282.5 484.4,1281.7 487.5,1281.1 C490.6,1280.5 494.6,1280.7 498.9,1280.0 C503.2,1279.3 507.9,1277.9 513.1,1276.9 C518.3,1275.9 525.5,1275.2 530.2,1273.8 C534.9,1272.2 537.7,1269.7 541.5,1267.9 C545.3,1266.1 548.9,1264.3 552.9,1262.7 C556.9,1261.1 561.6,1259.8 565.2,1258.4 C568.8,1257.0 571.8,1255.4 574.6,1254.4 C577.4,1253.4 579.1,1252.9 582.2,1252.4 C585.3,1251.9 590.3,1251.9 593.4,1251.3 C596.5,1250.7 598.9,1249.9 601.0,1249.0 C603.1,1248.1 604.4,1247.3 606.0,1246.0 C607.6,1244.7 608.2,1243.1 610.4,1241.3 C612.6,1239.5 616.2,1237.3 619.0,1235.5 C621.8,1233.6 624.3,1232.1 627.0,1230.4 C629.7,1228.6 632.3,1226.9 635.0,1225.1 C637.7,1223.3 640.3,1221.4 643.0,1219.6 C645.7,1217.7 648.3,1215.8 651.0,1213.9 C653.7,1211.9 656.3,1210.0 659.0,1207.9 C661.7,1205.9 664.3,1203.9 667.0,1201.8 C669.7,1199.7 672.3,1197.6 675.0,1195.5 C677.7,1193.3 680.3,1191.1 683.0,1188.9 C685.7,1186.6 688.3,1184.4 691.0,1182.1 C693.7,1179.8 696.3,1177.4 699.0,1175.0 C701.7,1172.6 704.3,1170.2 707.0,1167.8 C709.7,1165.3 712.3,1162.8 715.0,1160.3 C717.7,1157.8 720.3,1155.3 723.0,1152.7 C725.7,1150.1 728.3,1147.5 731.0,1144.9 C733.7,1142.3 736.3,1139.7 739.0,1137.0 C741.7,1134.3 744.3,1131.6 747.0,1128.9 C749.7,1126.2 752.3,1123.5 755.0,1120.7 C757.7,1118.0 760.3,1115.2 763.0,1112.4 C765.7,1109.7 768.3,1106.9 771.0,1104.1 C773.7,1101.3 776.3,1098.4 779.0,1095.6 C781.7,1092.7 784.3,1089.9 787.0,1087.0 C789.7,1084.1 792.3,1081.2 795.0,1078.3 C797.7,1075.4 800.3,1072.4 803.0,1069.5 C805.7,1066.5 808.3,1063.5 811.0,1060.5 C813.7,1057.5 816.3,1054.5 819.0,1051.4 C821.7,1048.4 824.3,1045.3 827.0,1042.2 C829.7,1039.1 832.3,1036.0 835.0,1032.9 C837.7,1029.7 840.3,1026.6 843.0,1023.4 C845.7,1020.2 848.3,1017.0 851.0,1013.7 C853.7,1010.5 856.3,1007.3 859.0,1004.0 C861.7,1000.8 864.3,997.5 867.0,994.2 C869.7,991.0 872.3,987.7 875.0,984.4 C877.7,981.1 880.3,977.8 883.0,974.5 C885.7,971.2 888.3,967.9 891.0,964.6 C893.7,961.3 896.3,958.0 899.0,954.7 C901.7,951.4 904.3,948.1 907.0,944.9 C909.7,941.6 912.3,938.3 915.0,935.1 C917.7,931.8 920.3,928.6 923.0,925.3 C925.7,922.1 928.3,918.9 931.0,915.7 C933.7,912.5 936.3,909.3 939.0,906.2 C941.7,903.0 944.3,899.8 947.0,896.7 C949.7,893.6 952.3,890.5 955.0,887.4 C957.7,884.3 960.3,881.2 963.0,878.2 C965.7,875.1 968.3,872.1 971.0,869.1 C973.7,866.1 976.3,863.1 979.0,860.2 C981.7,857.2 984.3,854.3 987.0,851.4 C989.7,848.5 992.3,845.6 995.0,842.8 C997.7,839.9 1000.3,837.1 1003.0,834.3 C1005.7,831.5 1008.3,828.7 1011.0,826.0 C1013.7,823.3 1016.3,820.6 1019.0,817.9 C1021.7,815.2 1024.3,812.5 1027.0,809.9 C1029.7,807.3 1032.3,804.7 1035.0,802.1 C1037.7,799.6 1040.3,797.0 1043.0,794.5 C1045.7,792.0 1048.3,789.5 1051.0,787.1 C1053.7,784.6 1056.3,782.2 1059.0,779.8 C1061.7,777.4 1064.3,775.1 1067.0,772.8 C1069.7,770.4 1072.3,768.1 1075.0,765.9 C1077.7,763.6 1080.3,761.4 1083.0,759.2 C1085.7,757.0 1088.3,754.9 1091.0,752.8 C1093.7,750.7 1096.3,748.7 1099.0,746.6 C1101.7,744.6 1104.3,742.7 1107.0,740.7 C1109.7,738.8 1112.3,737.0 1115.0,735.1 C1117.7,733.3 1120.3,731.5 1123.0,729.8 C1125.7,728.1 1128.3,726.5 1131.0,724.8 C1133.7,723.2 1136.3,721.7 1139.0,720.2 C1141.7,718.7 1144.3,717.3 1147.0,715.9 C1149.7,714.6 1152.3,713.2 1155.0,712.0 C1157.7,710.8 1160.3,709.6 1163.0,708.4 C1165.7,707.3 1168.3,706.3 1171.0,705.3 C1173.7,704.3 1176.3,703.3 1179.0,702.5 C1181.7,701.6 1184.3,700.8 1187.0,700.1 C1189.7,699.4 1192.3,698.7 1195.0,698.1 C1197.7,697.5 1200.3,697.0 1203.0,696.5 C1205.7,696.1 1208.3,695.7 1211.0,695.4 C1213.7,695.1 1216.3,694.8 1219.0,694.7 C1221.7,694.5 1224.3,694.4 1227.0,694.3 C1229.7,694.3 1232.3,694.3 1235.0,694.3 C1237.7,694.4 1240.3,694.5 1243.0,694.7 C1245.7,694.8 1248.3,695.1 1251.0,695.3 C1253.7,695.6 1256.3,695.9 1259.0,696.2 C1261.7,696.6 1264.3,697.0 1267.0,697.4 C1269.7,697.8 1272.3,698.3 1275.0,698.8 C1277.7,699.3 1280.3,699.8 1283.0,700.3 C1285.7,700.9 1288.3,701.5 1291.0,702.1 C1293.7,702.7 1296.3,703.3 1299.0,704.0 C1301.7,704.6 1304.3,705.3 1307.0,706.0 C1309.7,706.8 1312.3,707.5 1315.0,708.3 C1317.7,709.0 1320.3,709.8 1323.0,710.7 C1325.7,711.5 1328.3,712.3 1331.0,713.2 C1333.7,714.1 1336.3,715.0 1339.0,716.0 C1341.7,716.9 1344.3,717.9 1347.0,718.9 C1349.7,719.9 1352.3,720.9 1355.0,722.0 C1357.7,723.0 1360.3,724.1 1363.0,725.2 C1365.7,726.3 1368.3,727.5 1371.0,728.7 C1373.7,729.8 1376.3,731.0 1379.0,732.2 C1381.7,733.5 1384.3,734.7 1387.0,736.0 C1389.7,737.2 1392.3,738.5 1395.0,739.8 C1397.7,741.1 1400.3,742.5 1403.0,743.8 C1405.7,745.2 1408.3,746.5 1411.0,747.9 C1413.7,749.3 1416.3,750.7 1419.0,752.1 C1421.7,753.5 1424.3,754.9 1427.0,756.3 C1429.7,757.8 1432.3,759.2 1435.0,760.7 C1437.7,762.1 1440.3,763.6 1443.0,765.1 C1445.7,766.6 1448.3,768.0 1451.0,769.5 C1453.7,771.0 1456.3,772.6 1459.0,774.1 C1461.7,775.6 1464.3,777.1 1467.0,778.7 C1469.7,780.2 1472.3,781.7 1475.0,783.3 C1477.7,784.9 1480.3,786.4 1483.0,788.0 C1485.7,789.6 1488.3,791.2 1491.0,792.8 C1493.7,794.4 1496.3,796.0 1499.0,797.6 C1501.7,799.2 1504.3,800.8 1507.0,802.5 C1509.7,804.1 1512.3,805.8 1515.0,807.4 C1517.7,809.1 1520.3,810.7 1523.0,812.4 C1525.7,814.1 1528.3,815.7 1531.0,817.4 C1533.7,819.1 1536.3,820.7 1539.0,822.4 C1541.7,824.1 1544.3,825.8 1547.0,827.4 C1549.7,829.1 1552.3,830.8 1555.0,832.4 C1557.7,834.1 1560.3,835.8 1563.0,837.4 C1565.7,839.1 1568.3,840.7 1571.0,842.4 C1573.7,844.0 1576.3,845.6 1579.0,847.2 C1581.7,848.8 1584.3,850.4 1587.0,852.0 C1589.7,853.6 1592.3,855.2 1595.0,856.8 C1597.7,858.4 1600.3,859.9 1603.0,861.5 C1605.7,863.0 1608.3,864.6 1611.0,866.2 C1613.7,867.7 1616.3,869.3 1619.0,870.9 C1621.7,872.4 1624.3,874.0 1627.0,875.6 C1629.7,877.1 1632.3,878.7 1635.0,880.3 C1637.7,881.9 1640.3,883.5 1643.0,885.1 C1645.7,886.8 1648.3,888.4 1651.0,890.0 C1653.7,891.7 1656.3,893.4 1659.0,895.0 C1661.7,896.7 1664.3,898.4 1667.0,900.2 C1669.7,901.9 1672.3,903.6 1675.0,905.4 C1677.7,907.1 1680.3,908.9 1683.0,910.6 C1685.7,912.4 1688.3,914.2 1691.0,916.0 C1693.7,917.7 1696.3,919.5 1699.0,921.3 C1701.7,923.1 1704.3,924.9 1707.0,926.7 C1709.7,928.5 1712.3,930.3 1715.0,932.1 C1717.7,933.9 1720.3,935.7 1723.0,937.5 C1725.7,939.2 1728.3,941.0 1731.0,942.8 C1733.7,944.6 1736.3,946.3 1739.0,948.1 C1741.7,949.8 1744.3,951.6 1747.0,953.3 C1749.7,955.1 1752.3,956.8 1755.0,958.5 C1757.7,960.3 1760.3,962.0 1763.0,963.7 C1765.7,965.4 1768.3,967.2 1771.0,968.9 C1773.7,970.6 1776.3,972.3 1779.0,974.0 C1781.7,975.7 1784.3,977.5 1787.0,979.2 C1789.7,980.9 1792.3,982.6 1795.0,984.3 C1797.7,986.0 1801.3,988.4 1803.0,989.5 C1804.7,990.6 1804.7,990.6 1805.0,990.8"/>
<path class="cv" stroke="#000" style="stroke-linecap:round;stroke-width:6.0" d="M205.0,65.8h0.01 M245.0,72.0h0.01 M283.8,80.8h0.01 M323.0,92.0h0.01 M362.0,105.0h0.01 M400.5,117.0h0.01 M438.8,130.5h0.01 M476.2,145.0h0.01 M513.8,161.2h0.01 M550.5,177.0h0.01 M586.8,195.0h0.01 M623.0,212.5h0.01 M658.8,231.2h0.01 M694.5,250.0h0.01 M729.5,269.2h0.01 M765.0,289.2h0.01 M799.2,309.5h0.01 M833.2,330.5h0.01 M868.0,352.0h0.01 M902.5,373.2h0.01 M937.0,395.0h0.01 M971.8,416.2h0.01 M1006.8,438.0h0.01 M1041.0,458.2h0.01 M1076.2,478.2h0.01 M1111.8,498.8h0.01 M1147.5,517.2h0.01 M1183.0,535.6h0.01 M1218.0,554.4h0.01 M1254.5,573.2h0.01 M1290.5,592.5h0.01 M1326.2,610.8h0.01 M1362.0,630.0h0.01 M1397.5,649.2h0.01 M1433.8,667.5h0.01 M1469.2,687.0h0.01 M1504.5,706.8h0.01 M1539.2,726.8h0.01 M1574.2,746.5h0.01 M1609.4,767.5h0.01 M1643.3,788.3h0.01 M1678.3,809.5h0.01 M1711.7,831.7h0.01 M1743.8,855.0h0.01 M1776.2,881.2h0.01 M177.5,64.0 L181.2,64.1 L184.9,64.2 L188.6,64.4 L192.4,64.6 M217.6,67.3 L221.3,67.9 L225.1,68.4 L228.8,69.0 L232.5,69.7 M257.4,74.6 L260.9,75.3 L264.4,76.1 L267.9,76.9 L271.4,77.7 M296.0,84.0 L299.7,85.0 L303.5,86.1 L307.2,87.1 L310.9,88.2 M335.1,96.0 L338.8,97.2 L342.5,98.5 L346.2,99.8 L349.9,101.0 M374.1,108.8 L377.7,109.9 L381.3,111.0 L384.8,112.1 L388.4,113.2 M412.5,121.1 L416.1,122.3 L419.7,123.6 L423.3,124.8 L426.8,126.1 M450.7,134.9 L454.1,136.2 L457.6,137.6 L461.0,138.9 L464.5,140.2 M487.9,150.0 L491.5,151.5 L495.0,153.1 L498.6,154.6 L502.1,156.2 M525.5,166.2 L528.8,167.6 L532.2,169.0 L535.5,170.4 L538.9,171.8 M561.9,182.5 L565.3,184.2 L568.7,185.9 L572.0,187.6 L575.4,189.3 M598.2,200.5 L601.5,202.1 L604.9,203.7 L608.2,205.3 L611.6,206.9 M634.3,218.3 L637.6,220.0 L640.9,221.8 L644.2,223.5 L647.5,225.3 M670.0,237.1 L673.3,238.9 L676.6,240.6 L680.0,242.3 L683.3,244.1 M705.7,256.0 L708.9,257.8 L712.0,259.5 L715.2,261.3 L718.4,263.1 M740.6,275.4 L743.9,277.3 L747.3,279.2 L750.6,281.1 L754.0,283.0 M776.0,295.6 L779.1,297.4 L782.2,299.3 L785.3,301.1 L788.4,302.9 M810.1,316.1 L813.2,318.0 L816.3,320.0 L819.4,321.9 L822.5,323.8 M844.0,337.2 L847.3,339.2 L850.6,341.3 L853.9,343.3 L857.2,345.3 M878.8,358.6 L882.1,360.6 L885.3,362.6 L888.5,364.6 L891.7,366.5 M913.2,380.0 L916.5,382.1 L919.7,384.1 L923.0,386.2 L926.2,388.3 M947.8,401.7 L951.1,403.6 L954.4,405.6 L957.6,407.6 L960.9,409.6 M982.5,422.9 L985.9,425.0 L989.2,427.1 L992.6,429.2 L995.9,431.3 M1017.6,444.6 L1020.7,446.4 L1023.8,448.3 L1026.9,450.1 L1030.0,451.9 M1052.0,464.5 L1055.3,466.4 L1058.6,468.2 L1061.9,470.1 L1065.2,471.9 M1087.2,484.7 L1090.6,486.6 L1093.9,488.6 L1097.3,490.6 L1100.7,492.5 M1122.9,504.7 L1126.2,506.5 L1129.5,508.2 L1132.8,509.8 L1136.2,511.5 M1158.8,523.0 L1162.1,524.7 L1165.3,526.3 L1168.5,528.0 L1171.8,529.7 M1194.2,541.6 L1197.3,543.3 L1200.5,545.0 L1203.6,546.7 L1206.8,548.4 M1229.3,560.2 L1232.8,562.0 L1236.3,563.8 L1239.7,565.6 L1243.2,567.4 M1265.7,579.2 L1269.1,581.1 L1272.5,582.9 L1275.9,584.7 L1279.3,586.5 M1301.8,598.3 L1305.1,600.0 L1308.4,601.6 L1311.7,603.3 L1314.9,605.0 M1337.5,616.7 L1340.8,618.5 L1344.2,620.3 L1347.5,622.1 L1350.9,623.9 M1373.1,636.1 L1376.4,637.9 L1379.7,639.7 L1383.0,641.5 L1386.3,643.3 M1408.8,655.0 L1412.2,656.7 L1415.6,658.4 L1419.0,660.0 L1422.4,661.7 M1445.0,673.5 L1448.3,675.3 L1451.6,677.1 L1454.9,679.0 L1458.2,680.8 M1480.3,693.2 L1483.6,695.0 L1486.9,696.8 L1490.2,698.7 L1493.4,700.5 M1515.5,713.1 L1518.7,714.9 L1521.9,716.8 L1525.1,718.6 L1528.2,720.4 M1550.3,733.0 L1553.5,734.8 L1556.8,736.6 L1560.0,738.4 L1563.2,740.2 M1585.2,752.9 L1588.6,754.9 L1591.9,756.9 L1595.2,758.9 L1598.6,760.9 M1620.2,774.2 L1623.3,776.0 L1626.3,777.9 L1629.4,779.8 L1632.5,781.7 M1654.2,794.8 L1657.5,796.8 L1660.9,798.8 L1664.2,800.8 L1667.5,802.8 M1689.0,816.4 L1692.1,818.4 L1695.1,820.4 L1698.2,822.5 L1701.2,824.5 M1722.1,839.0 L1725.0,841.0 L1727.9,843.1 L1730.8,845.2 L1733.7,847.3 M1753.7,863.0 L1756.8,865.5 L1760.0,868.1 L1763.1,870.7 L1766.3,873.3 M1786.4,888.8 L1789.5,890.9 L1792.6,893.0 L1795.8,895.0 L1799.1,896.9"/>
</g>
<g class="ax" stroke-width="5.5">
<path stroke-width="5.0" d="M1804.4,46.35 L1804.4,1372.8"/>
<path d="M1804.4,1087.58 L1830.0,1087.58"/>
<path d="M1804.4,827.96 L1830.0,827.96"/>
<path d="M1804.4,568.34 L1830.0,568.34"/>
<path d="M1804.4,308.72 L1830.0,308.72"/>
</g>
<g text-anchor="middle">
<text transform="translate(177.2,1447.8) scale(1.0,1.025)" font-size="74">150</text>
<text transform="translate(448.3,1447.8) scale(1.0,1.025)" font-size="74">200</text>
<text transform="translate(719.5,1447.8) scale(1.0,1.025)" font-size="74">250</text>
<text transform="translate(990.7,1447.8) scale(1.0,1.025)" font-size="74">300</text>
<text transform="translate(1261.8,1447.8) scale(1.0,1.025)" font-size="74">350</text>
<text transform="translate(1533.0,1447.8) scale(1.0,1.025)" font-size="74">400</text>
<text transform="translate(1804.1,1447.8) scale(1.0,1.025)" font-size="74">450</text>
</g>
<g>
<text transform="translate(1847.6,1369.7) scale(1.0,1.025)" font-size="74">0</text>
<text transform="translate(1847.6,1110.1) scale(1.0,1.025)" font-size="74">20</text>
<text transform="translate(1847.6,850.5) scale(1.0,1.025)" font-size="74">40</text>
<text transform="translate(1847.6,590.8) scale(1.0,1.025)" font-size="74">60</text>
<text transform="translate(1847.6,331.2) scale(1.0,1.025)" font-size="74">80</text>
<text transform="translate(1847.6,71.6) scale(1.0,1.025)" font-size="74">100</text>
</g>
<g class="lg">
<path stroke="#000000" d="M1540,110.7 L1706,110.7"/>
<path stroke="#ff4040" d="M1540,202.9 L1706,202.9"/>
<path stroke="#0000ff" d="M1540,295.7 L1706,295.7"/>
<path stroke="#008000" d="M1540,387.7 L1706,387.7"/>
<path stroke="#ff00ff" d="M1540,480 L1706,480"/>
</g>
<g>
<text transform="translate(1726.0,136.9) scale(0.97,1.0)" font-size="73">a</text>
<text transform="translate(1726.0,229.1) scale(0.97,1.0)" font-size="73">b</text>
<text transform="translate(1726.0,321.9) scale(0.97,1.0)" font-size="73">c</text>
<text transform="translate(1726.0,413.9) scale(0.97,1.0)" font-size="73">d</text>
<text transform="translate(1726.0,506.2) scale(0.97,1.0)" font-size="73">e</text>
<text transform="translate(565.3,141.0) scale(1.0,0.98)" font-size="73" letter-spacing="0.55">Thermodynamic</text>
</g>
<g font-size="85.7">
<text transform="translate(84.2,1146.3) rotate(-90)">NO<tspan font-size="62" font-weight="normal" dy="23.3" dx="-1.5">2</tspan><tspan dy="-23.3" dx="1.5"> Concentration (a.u.)</tspan></text>
<text transform="translate(2067.2,1042) rotate(-90)">NO<tspan font-size="62" font-weight="normal" dy="23.3" dx="-1.5">2</tspan><tspan dy="-23.3" dx="1.5"> Conversion (%)</tspan></text>
</g>
<g>
<text x="880.7" y="1560.8" font-size="80">T </text>
<text transform="translate(949.7,1561.8) scale(1.26,1)" font-size="103.5" stroke="#fff" stroke-width="2.6">(</text>
<text x="986.9" y="1559.6" font-size="88.5" style="font-weight:normal" stroke="#fff" stroke-width="1.3">°</text>
<text transform="translate(1019.4,1561.2) scale(1.04,1)" font-size="89">C</text>
<text transform="translate(1079,1561.8) scale(1.24,1)" font-size="103.5" stroke="#fff" stroke-width="2.6">)</text>
</g>
</svg></body></html>
